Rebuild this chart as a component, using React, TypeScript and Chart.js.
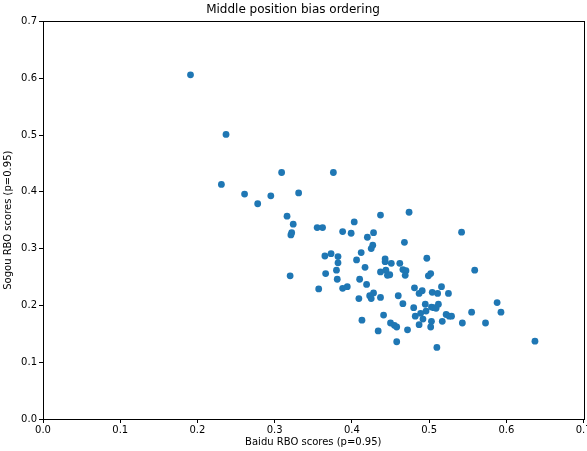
import React, { useEffect, useRef } from "react";
import { Chart, registerables } from "chart.js";

Chart.register(...registerables);

const baiduScores: number[] = [
  0.191, 0.237, 0.231, 0.261, 0.278, 0.295, 0.309, 0.331, 0.376, 0.316,
  0.324, 0.322, 0.321, 0.320, 0.355, 0.362, 0.388, 0.399, 0.403, 0.437,
  0.474, 0.428, 0.420, 0.468, 0.427, 0.425, 0.365, 0.373, 0.382, 0.382,
  0.412, 0.406, 0.366, 0.380, 0.381, 0.357, 0.417, 0.443, 0.443, 0.451,
  0.437, 0.444, 0.446, 0.449, 0.462, 0.466, 0.470, 0.469, 0.497, 0.502,
  0.499, 0.410, 0.419, 0.388, 0.394, 0.409, 0.423, 0.425, 0.428, 0.437,
  0.460, 0.481, 0.487, 0.491, 0.504, 0.511, 0.516, 0.525, 0.466, 0.480,
  0.495, 0.496, 0.503, 0.506, 0.512, 0.509, 0.482, 0.489, 0.492, 0.522,
  0.526, 0.529, 0.441, 0.413, 0.450, 0.455, 0.458, 0.487, 0.503, 0.502,
  0.517, 0.434, 0.472, 0.458, 0.510, 0.542, 0.559, 0.588, 0.593, 0.555,
  0.543, 0.573, 0.637,
];

const sogouScores: number[] = [
  0.606, 0.501, 0.413, 0.396, 0.379, 0.393, 0.434, 0.398, 0.434, 0.357,
  0.343, 0.328, 0.324, 0.252, 0.337, 0.337, 0.330, 0.327, 0.347, 0.359,
  0.364, 0.328, 0.320, 0.311, 0.306, 0.300, 0.287, 0.291, 0.286, 0.275,
  0.293, 0.280, 0.256, 0.262, 0.246, 0.229, 0.267, 0.282, 0.277, 0.274,
  0.259, 0.262, 0.253, 0.254, 0.274, 0.263, 0.261, 0.253, 0.283, 0.256,
  0.252, 0.246, 0.237, 0.230, 0.233, 0.212, 0.217, 0.212, 0.222, 0.214,
  0.217, 0.231, 0.221, 0.226, 0.223, 0.221, 0.233, 0.221, 0.203, 0.196,
  0.202, 0.190, 0.197, 0.196, 0.202, 0.195, 0.181, 0.186, 0.176, 0.184,
  0.181, 0.181, 0.183, 0.174, 0.169, 0.165, 0.162, 0.166, 0.172, 0.162,
  0.172, 0.155, 0.157, 0.136, 0.126, 0.329, 0.262, 0.205, 0.188, 0.188,
  0.169, 0.169, 0.137,
];

const chartTitle = "Middle position bias ordering";
const xTitle = "Baidu RBO scores (p=0.95)";
const yTitle = "Sogou RBO scores (p=0.95)";
const axisMin = 0;
const axisMax = 0.7;
const tickStep = 0.1;

const FONT = "'DejaVu Sans', sans-serif";

const framePlugin = {
  id: "frame",
  afterDraw(chart: any) {
    const { ctx, chartArea } = chart;
    ctx.save();
    ctx.strokeStyle = "#000";
    ctx.lineWidth = 1;
    ctx.strokeRect(
      Math.round(chartArea.left) + 0.5,
      Math.round(chartArea.top) + 0.5,
      Math.round(chartArea.right - chartArea.left),
      Math.round(chartArea.bottom - chartArea.top)
    );
    ctx.restore();
  },
};

export default function App() {
  const ref = useRef<HTMLCanvasElement | null>(null);

  useEffect(() => {
    document.body.style.margin = "0";
    if (!ref.current) return;
    const points = baiduScores.map((x, i) => ({ x, y: sogouScores[i] }));
    const chart = new Chart(ref.current, {
      type: "scatter",
      data: {
        datasets: [
          {
            data: points,
            backgroundColor: "#1f77b4",
            borderWidth: 0,
            pointRadius: 3.4,
            pointHoverRadius: 3.4,
          },
        ],
      },
      options: {
        animation: false,
        responsive: false,
        layout: { padding: { left: 0, right: 1, top: 0, bottom: 0 } },
        plugins: {
          legend: { display: false },
          tooltip: { enabled: false },
          title: {
            display: true,
            text: chartTitle,
            color: "#000",
            font: { family: FONT, size: 12, weight: "normal" as any, lineHeight: 1.2 },
            padding: { top: 3, bottom: 4 },
          },
        },
        scales: {
          x: {
            type: "linear",
            min: axisMin,
            max: axisMax,
            ticks: {
              stepSize: tickStep,
              color: "#000",
              font: { family: FONT, size: 10 },
              padding: 1,
              maxRotation: 0,
              callback: (v: any) => Number(v).toFixed(1),
            },
            grid: {
              drawOnChartArea: false,
              drawTicks: true,
              tickLength: 4,
              color: "#000",
            },
            border: { display: true, color: "#000", width: 1 },
            title: {
              display: true,
              text: xTitle,
              color: "#000",
              font: { family: FONT, size: 10 },
              padding: { top: 0, bottom: 3 },
            },
            afterFit: (scale: any) => {
              scale.height = 32;
              scale.paddingLeft = 0;
              scale.paddingRight = 0;
            },
          },
          y: {
            type: "linear",
            min: axisMin,
            max: axisMax,
            ticks: {
              stepSize: tickStep,
              color: "#000",
              font: { family: FONT, size: 10 },
              padding: 2,
              callback: (v: any) => Number(v).toFixed(1),
            },
            grid: {
              drawOnChartArea: false,
              drawTicks: true,
              tickLength: 4,
              color: "#000",
            },
            border: { display: true, color: "#000", width: 1 },
            title: {
              display: true,
              text: yTitle,
              color: "#000",
              font: { family: FONT, size: 10 },
              padding: { top: 2, bottom: 0 },
            },
            afterFit: (scale: any) => {
              scale.width = 43;
              scale.paddingTop = 0;
              scale.paddingBottom = 0;
            },
          },
        },
      },
      plugins: [framePlugin],
    });
    return () => chart.destroy();
  }, []);

  return (
    <div style={{ width: 587, height: 451 }}>
      <canvas ref={ref} width={587} height={451} style={{ display: "block" }} />
    </div>
  );
}
